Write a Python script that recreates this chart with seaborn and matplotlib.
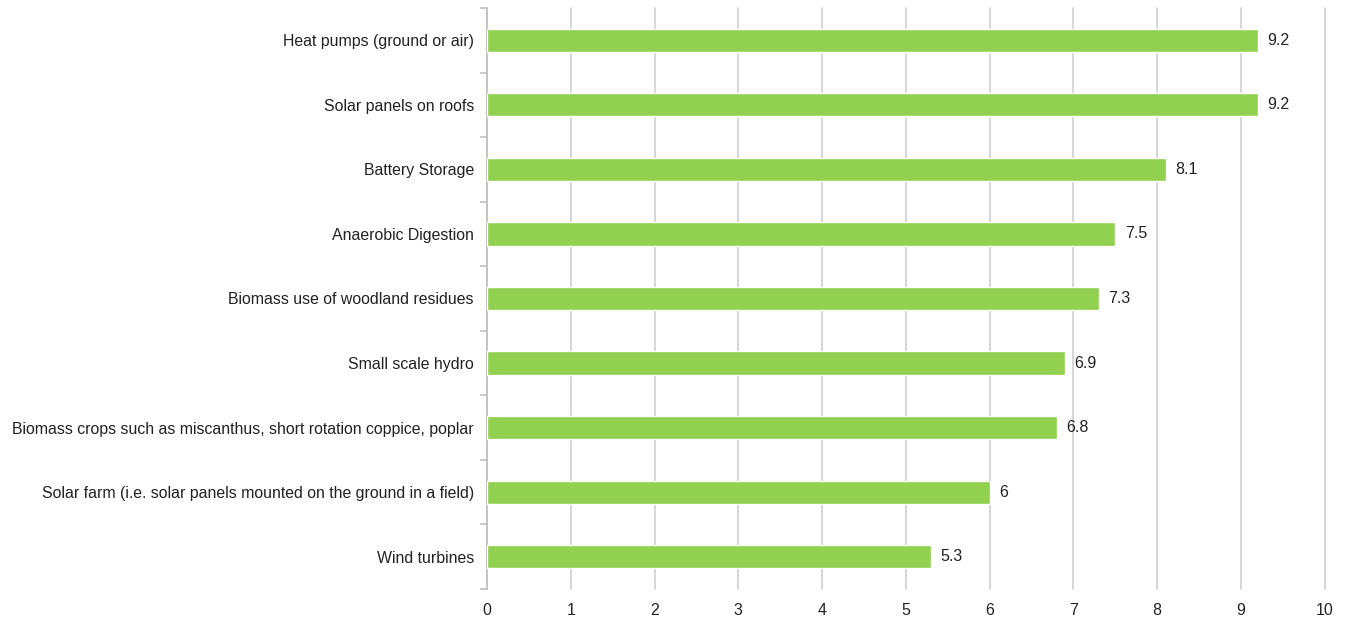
import matplotlib
matplotlib.use("Agg")
import matplotlib.pyplot as plt
import seaborn as sns
import pandas as pd
import numpy as np

categories = [
    "Heat pumps (ground or air)",
    "Solar panels on roofs",
    "Battery Storage",
    "Anaerobic Digestion",
    "Biomass use of woodland residues",
    "Small scale hydro",
    "Biomass crops such as miscanthus, short rotation coppice, poplar",
    "Solar farm (i.e. solar panels mounted on the ground in a field)",
    "Wind turbines",
]
scores = [9.2, 9.2, 8.1, 7.5, 7.3, 6.9, 6.8, 6.0, 5.3]
score_labels = ["9.2", "9.2", "8.1", "7.5", "7.3", "6.9", "6.8", "6", "5.3"]
x_ticks = [0, 1, 2, 3, 4, 5, 6, 7, 8, 9, 10]

sns.set_theme(style="white")
plt.rcParams["font.family"] = ["Liberation Sans", "DejaVu Sans"]

df = pd.DataFrame({"category": categories, "score": scores})

fig = plt.figure(figsize=(13.49, 6.18), dpi=100)
ax = fig.add_axes([0.361, 0.047, 0.621, 0.94])

sns.barplot(data=df, x="score", y="category", color="#92D050", saturation=1,
            width=0.36, ax=ax, zorder=3)

ax.set_xlim(0, 10)
ax.set_ylim(len(categories) - 0.5, -0.5)
ax.set_xticks(x_ticks)
ax.set_xticklabels([str(t) for t in x_ticks], fontsize=11.5, color="#222222")
ax.tick_params(axis="x", length=0, pad=10)
ax.tick_params(axis="y", which="major", left=False, length=0, pad=9.4,
               labelsize=11.4, labelcolor="#222222")
ax.set_yticks(np.arange(-0.5, len(categories), 1.0), minor=True)
ax.tick_params(axis="y", which="minor", left=True, length=5,
               color="#BFBFBF", width=1.2)

ax.xaxis.grid(True, color="#D0D0D0", linewidth=1.2, zorder=0)
for gl in ax.get_xgridlines():
    gl.set_clip_on(False)
ax.set_axisbelow(True)
ax.set_xlabel("")
ax.set_ylabel("")

for side in ["top", "right", "bottom"]:
    ax.spines[side].set_visible(False)
ax.spines["left"].set_color("#BFBFBF")
ax.spines["left"].set_linewidth(1.2)

for i, (v, lab) in enumerate(zip(scores, score_labels)):
    ax.annotate(lab, xy=(v, i), xytext=(7, 0), textcoords="offset points",
                va="center", ha="left", fontsize=11.5, color="#222222")

fig.savefig("out.png", dpi=100)
